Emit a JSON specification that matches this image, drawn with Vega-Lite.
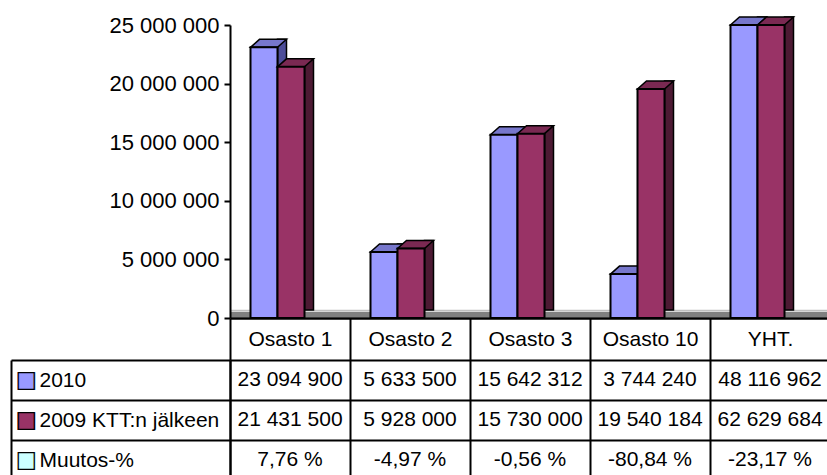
{
  "$schema": "https://vega.github.io/schema/vega-lite/v6.json",
  "padding": {"left": 10, "top": 14, "right": 0, "bottom": 0},
  "background": "white",
  "config": {
    "locale": {"number": {"decimal": ",", "thousands": " ", "grouping": [3], "currency": ["", " €"], "minus": "-", "percent": " %"}},
    "view": {"stroke": null},
    "font": "Liberation Sans"
  },
  "datasets": {
    "osastot": [
      {"osasto": "Osasto 1", "v2010": 23094900, "v2009": 21431500, "muutos": 0.0776},
      {"osasto": "Osasto 2", "v2010": 5633500, "v2009": 5928000, "muutos": -0.0497},
      {"osasto": "Osasto 3", "v2010": 15642312, "v2009": 15730000, "muutos": -0.0056},
      {"osasto": "Osasto 10", "v2010": 3744240, "v2009": 19540184, "muutos": -0.8084},
      {"osasto": "YHT.", "v2010": 48116962, "v2009": 62629684, "muutos": -0.2317}
    ]
  },
  "data": {"name": "osastot"},
  "spacing": 42,
  "bounds": "flush",
  "vconcat": [
    {
      "width": 600,
      "height": 293,
      "encoding": {
        "x": {
          "field": "osasto", "type": "nominal",
          "sort": ["Osasto 1", "Osasto 2", "Osasto 3", "Osasto 10", "YHT."],
          "scale": {"paddingInner": 0, "paddingOuter": 0},
          "axis": {"orient": "bottom", "title": null, "labelAngle": 0, "labelFont": "Liberation Sans", "labelFontSize": 21, "labelColor": "black", "labelBaseline": "middle", "labelPadding": -21, "tickBand": "extent", "tickSize": 42, "tickWidth": 2, "tickColor": "black", "domainColor": "black", "domainWidth": 2.5, "grid": false, "labelLimit": 200}
        }
      },
      "layer": [
        {
          "mark": {"type": "bar", "width": 9, "xOffset": -8, "yOffset": -8, "y2Offset": -4, "fill": "#4d4d99", "stroke": "black", "strokeWidth": 1.5},
          "encoding": {"y": {"field": "v2010", "type": "quantitative", "scale": {"domain": [0, 25000000], "clamp": true, "nice": false, "zero": true},
            "axis": {"orient": "left", "values": [340000], "grid": true, "gridColor": "#808080", "gridWidth": 5.5, "labels": false, "ticks": false, "domain": false, "title": null}}}
        },
        {
          "mark": {"type": "point", "shape": "M-13.5,0L13.5,0L22.5,-8L-4.5,-8Z", "size": 4, "filled": true, "xOffset": -26, "fill": "#7777cc", "opacity": 1, "stroke": "black", "strokeWidth": 1.5, "strokeOpacity": 1, "fillOpacity": 1},
          "encoding": {"y": {"field": "v2010", "type": "quantitative", "scale": {"domain": [0, 25000000], "clamp": true, "nice": false, "zero": true},
            "axis": {"orient": "left", "values": [665000], "grid": true, "gridColor": "#c0c0c0", "gridWidth": 1.5, "labels": false, "ticks": false, "domain": false, "title": null}}}
        },
        {
          "mark": {"type": "bar", "width": 27, "xOffset": -26, "fill": "#9999ff", "stroke": "black", "strokeWidth": 2},
          "encoding": {"y": {"field": "v2010", "type": "quantitative", "scale": {"domain": [0, 25000000], "clamp": true, "nice": false, "zero": true},
            "axis": {"orient": "left", "title": null, "values": [0, 5000000, 10000000, 15000000, 20000000, 25000000], "format": ",d", "labelFont": "Liberation Sans", "labelFontSize": 22, "labelColor": "black", "labelPadding": 5, "tickSize": 6, "tickWidth": 2, "tickColor": "black", "domainColor": "black", "domainWidth": 2, "grid": false}}}
        },
        {
          "mark": {"type": "bar", "width": 9, "xOffset": 19, "yOffset": -8, "y2Offset": -4, "fill": "#4d1a33", "stroke": "black", "strokeWidth": 1.5},
          "encoding": {"y": {"field": "v2009", "type": "quantitative", "scale": {"domain": [0, 25000000], "clamp": true, "nice": false, "zero": true}, "axis": null}}
        },
        {
          "mark": {"type": "point", "shape": "M-13.5,0L13.5,0L22.5,-8L-4.5,-8Z", "size": 4, "filled": true, "xOffset": 1, "fill": "#7a2952", "opacity": 1, "stroke": "black", "strokeWidth": 1.5, "strokeOpacity": 1, "fillOpacity": 1},
          "encoding": {"y": {"field": "v2009", "type": "quantitative", "scale": {"domain": [0, 25000000], "clamp": true, "nice": false, "zero": true}, "axis": null}}
        },
        {
          "mark": {"type": "bar", "width": 27, "xOffset": 1, "fill": "#993366", "stroke": "black", "strokeWidth": 2},
          "encoding": {"y": {"field": "v2009", "type": "quantitative", "scale": {"domain": [0, 25000000], "clamp": true, "nice": false, "zero": true}, "axis": null}}
        }
      ],
      "resolve": {"axis": {"y": "independent"}}
    },
    {
      "width": 600,
      "height": 120,
      "encoding": {
        "x": {
          "field": "osasto", "type": "nominal",
          "sort": ["Osasto 1", "Osasto 2", "Osasto 3", "Osasto 10", "YHT."],
          "scale": {"paddingInner": 0, "paddingOuter": 0},
          "axis": {"orient": "bottom", "grid": true, "gridColor": "black", "gridWidth": 2, "tickBand": "extent", "labels": false, "ticks": false, "domain": false, "title": null}
        }
      },
      "layer": [
        {
          "mark": {"type": "text", "font": "Liberation Sans", "fontSize": 21, "color": "black", "baseline": "middle"},
          "encoding": {
            "y": {"datum": "2010", "type": "nominal",
              "scale": {"type": "band", "domain": ["2010", "2009 KTT:n jälkeen", "Muutos-%"], "paddingInner": 0, "paddingOuter": 0},
              "axis": {"orient": "left", "title": null, "grid": true, "gridColor": "black", "gridWidth": 2, "tickBand": "extent", "ticks": true, "tickSize": 219, "tickWidth": 2, "tickColor": "black", "domain": true, "domainColor": "black", "domainWidth": 2, "labelAlign": "left", "labelBaseline": "middle", "labelPadding": -28, "labelFont": "Liberation Sans", "labelFontSize": 21, "labelColor": "black", "labelLimit": 400}},
            "text": {"field": "v2010", "type": "quantitative", "format": ",d"}
          }
        },
        {
          "mark": {"type": "text", "font": "Liberation Sans", "fontSize": 21, "color": "black", "baseline": "middle"},
          "encoding": {
            "y": {"datum": "2009 KTT:n jälkeen", "type": "nominal",
              "scale": {"type": "band", "domain": ["2010", "2009 KTT:n jälkeen", "Muutos-%"], "paddingInner": 0, "paddingOuter": 0},
              "axis": {"orient": "left", "offset": 219, "title": null, "grid": false, "ticks": false, "tickSize": 0, "domain": true, "domainColor": "black", "domainWidth": 2, "labelExpr": "'■'", "labelAlign": "left", "labelBaseline": "middle", "labelPadding": -4, "labelFont": "DejaVu Sans", "labelFontSize": 23,
                "labelColor": {"condition": [{"test": "datum.value === '2010'", "value": "#9999ff"}, {"test": "datum.value === '2009 KTT:n jälkeen'", "value": "#993366"}], "value": "#ccffff"}}},
            "text": {"field": "v2009", "type": "quantitative", "format": ",d"}
          }
        },
        {
          "mark": {"type": "text", "font": "Liberation Sans", "fontSize": 21, "color": "black", "baseline": "middle"},
          "encoding": {
            "y": {"datum": "Muutos-%", "type": "nominal",
              "scale": {"type": "band", "domain": ["2010", "2009 KTT:n jälkeen", "Muutos-%"], "paddingInner": 0, "paddingOuter": 0},
              "axis": {"orient": "left", "offset": 219, "title": null, "grid": false, "ticks": false, "tickSize": 0, "domain": false, "labelExpr": "'□'", "labelAlign": "left", "labelBaseline": "middle", "labelPadding": -4, "labelFont": "DejaVu Sans", "labelFontSize": 23, "labelColor": "black"}},
            "text": {"field": "muutos", "type": "quantitative", "format": ".2%"}
          }
        }
      ],
      "resolve": {"axis": {"y": "independent"}}
    }
  ]
}
